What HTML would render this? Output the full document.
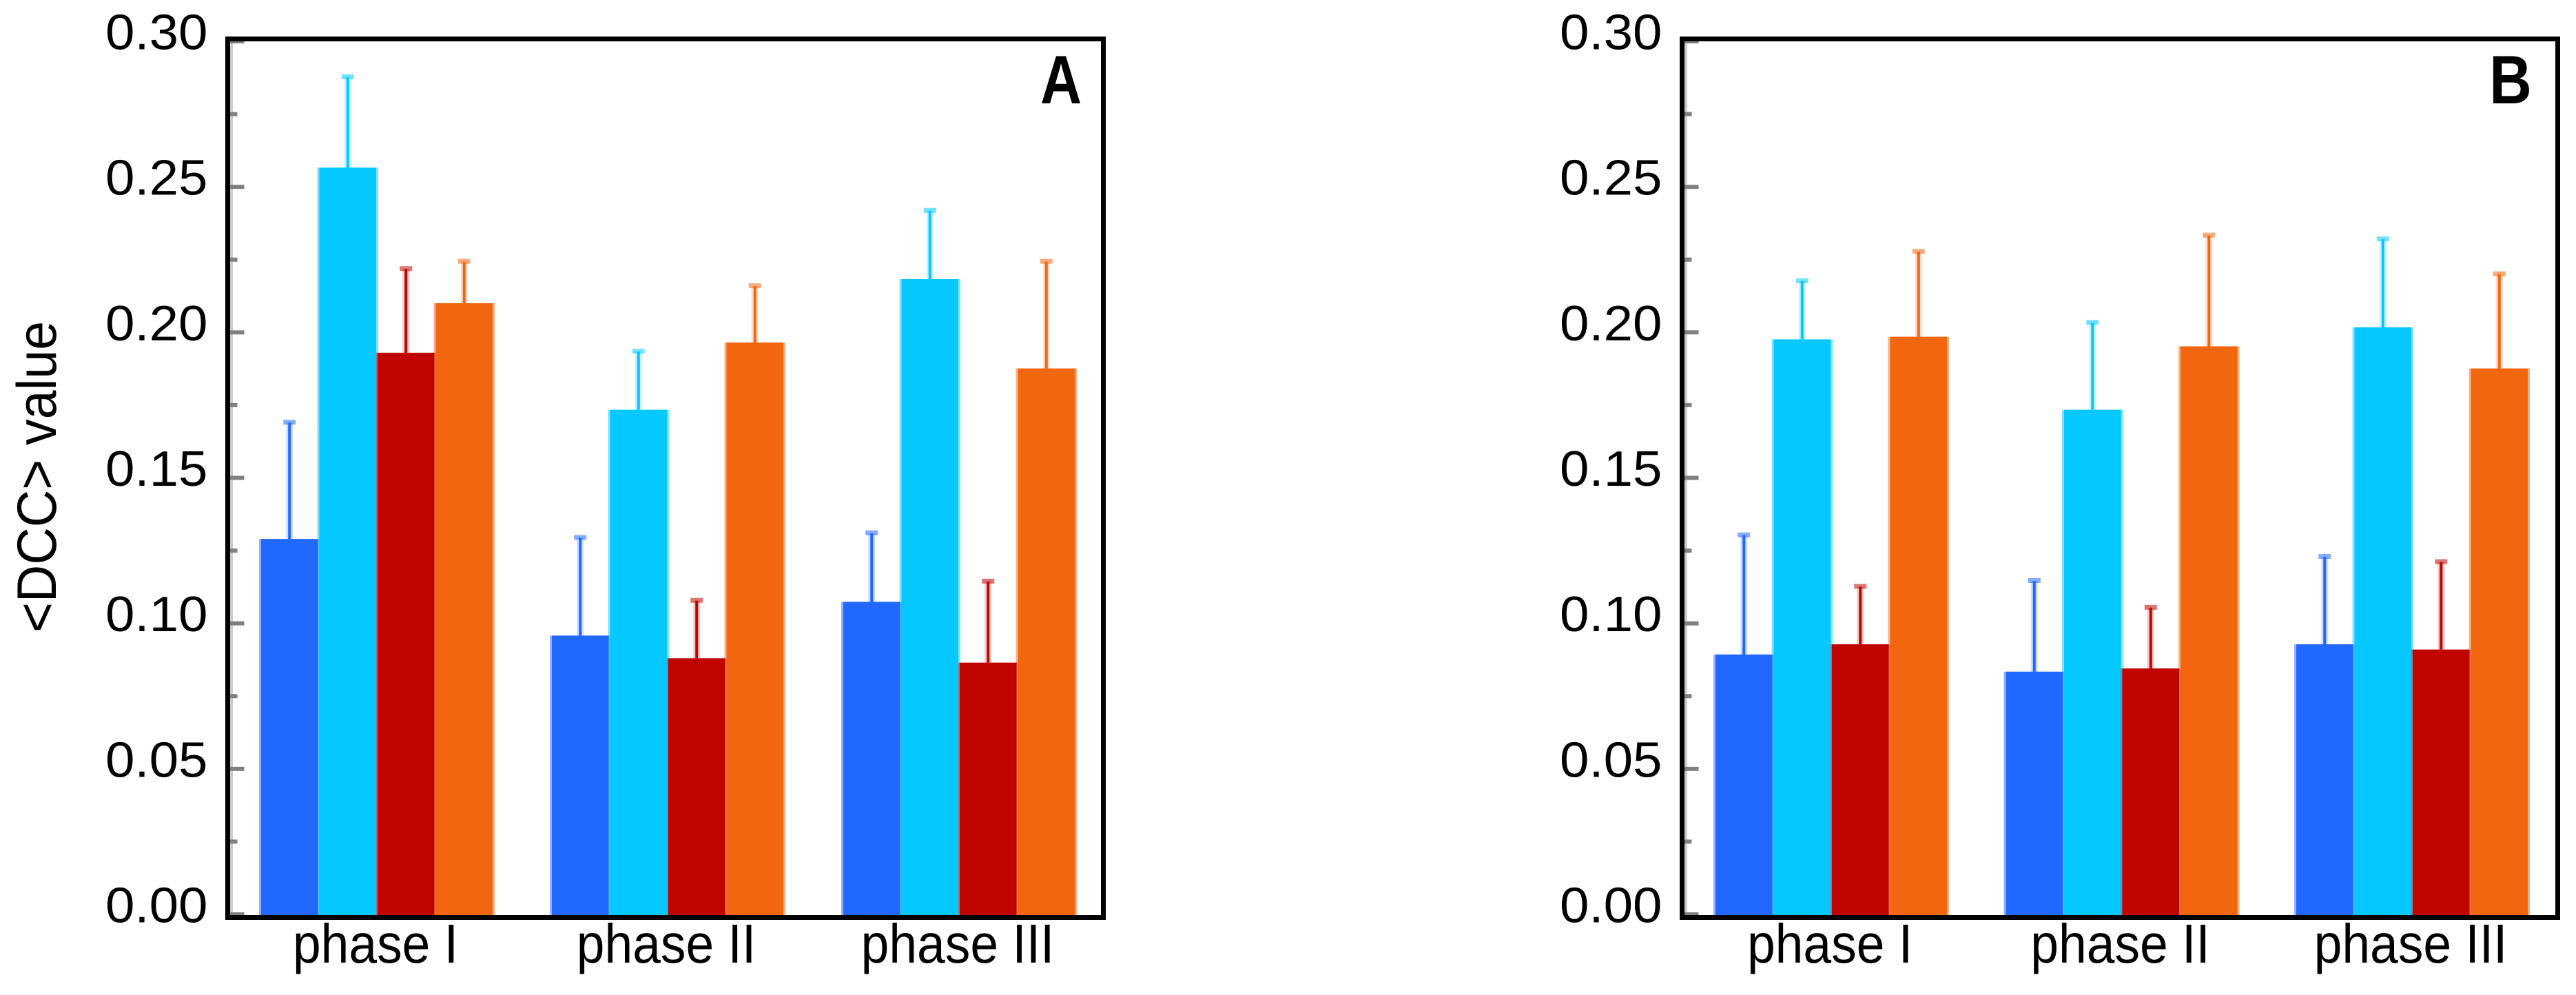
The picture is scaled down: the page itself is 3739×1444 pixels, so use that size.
<!DOCTYPE html>
<html lang="en">
<head>
<meta charset="utf-8">
<title>DCC value by phase</title>
<style>
html,body{margin:0;padding:0;background:#fff;}
body{width:3739px;height:1444px;overflow:hidden;}
svg{display:block;}
text{font-family:"Liberation Sans",sans-serif;fill:#000;}
</style>
</head>
<body>
<svg id="figure" xmlns="http://www.w3.org/2000/svg" width="3739" height="1444" viewBox="0 0 3739 1444">
<rect x="0" y="0" width="3739" height="1444" fill="#ffffff"/>
<text transform="translate(81,692) rotate(-90) scale(0.93,1)" text-anchor="middle" font-size="81">&lt;DCC&gt; value</text>
</svg>
<script>
const categories = ['phase I', 'phase II', 'phase III'];
const seriesNames = ['blue', 'cyan', 'red', 'orange'];
const yTickLabels = ['0.00', '0.05', '0.10', '0.15', '0.20', '0.25', '0.30'];
const yTickValues = [0, 0.05, 0.10, 0.15, 0.20, 0.25, 0.30];
const yMinorValues = [0.025, 0.075, 0.125, 0.175, 0.225, 0.275];

const panelAMeans = {
  blue: [0.129, 0.0958, 0.1074],
  cyan: [0.2566, 0.1734, 0.2183],
  red: [0.193, 0.088, 0.0865],
  orange: [0.21, 0.1965, 0.1876]
};
const panelAUppers = {
  blue: [0.169, 0.1294, 0.131],
  cyan: [0.2877, 0.1934, 0.2418],
  red: [0.2218, 0.1078, 0.1144],
  orange: [0.2243, 0.2159, 0.2243]
};
const panelBMeans = {
  blue: [0.0893, 0.0834, 0.0928],
  cyan: [0.1976, 0.1734, 0.2017],
  red: [0.0928, 0.0845, 0.091],
  orange: [0.1985, 0.1952, 0.1876]
};
const panelBUppers = {
  blue: [0.1303, 0.1146, 0.1229],
  cyan: [0.2176, 0.2033, 0.232],
  red: [0.1126, 0.1054, 0.1211],
  orange: [0.2277, 0.2333, 0.22]
};

const colors = { blue: '#2068ff', cyan: '#04c8ff', red: '#c00500', orange: '#f26610' };
const NS = 'http://www.w3.org/2000/svg';
const svg = document.getElementById('figure');

function make(parent, tag, attrs) {
  const el = document.createElementNS(NS, tag);
  for (const k in attrs) el.setAttribute(k, attrs[k]);
  parent.appendChild(el);
  return el;
}

function drawPanel(cfg) {
  const g = make(svg, 'g', {});
  
  

  const yTop = 60, yZero = 1327, yMax = 0.30;
  const yScale = v => yZero - (v / yMax) * (yZero - yTop);
  const groupX = i => cfg.groupStarts[i];

  categories.forEach((cat, ci) => {
    seriesNames.forEach((s, si) => {
      const x = groupX(ci) + si * cfg.barW;
      const top = yScale(cfg.means[s][ci]);
      const up = yScale(cfg.uppers[s][ci]);
      const cx = x + cfg.barW / 2;

      const stemHalo = make(g, 'rect', { x: cx - 5, y: up, width: 10, height: top - up, fill: colors[s], opacity: 0.22 });
      
      

      const stem = make(g, 'rect', { x: cx - 2, y: up, width: 4, height: top - up, fill: colors[s] });
      
      

      const cap = make(g, 'rect', { x: cx - 9, y: up - 4, width: 18, height: 7, fill: colors[s], opacity: 0.55 });
      
      

      const edge = make(g, 'rect', { x: x - 2, y: top, width: cfg.barW + 4, height: yZero + 2 - top, fill: colors[s], opacity: 0.5 });
      
      
    });
    seriesNames.forEach((s, si) => {
      const x = groupX(ci) + si * cfg.barW;
      const top = yScale(cfg.means[s][ci]);
      const bar = make(g, 'rect', { x: x + 1, y: top, width: cfg.barW - 2, height: yZero + 2 - top, fill: colors[s] });
      
      
    });

    const labelX = groupX(ci) + 2 * cfg.barW - 2;
    const label = make(g, 'text', { transform: 'translate(' + labelX + ',1397) scale(0.915,1)', 'text-anchor': 'middle', 'font-size': 80 });
    
    
    label.textContent = cat;
  });

  const strip = make(g, 'rect', { x: cfg.left + 3, y: yTop, width: 4.5, height: yZero - yTop, fill: '#cccccc' });
  
  

  yTickValues.forEach((v, i) => {
    const t = make(g, 'rect', { x: cfg.left + 3, y: yScale(v) - 3, width: 21, height: 6, fill: '#808080' });
    
    

    const lab = make(g, 'text', { transform: 'translate(' + (cfg.left - 29) + ',' + (yScale(v) + 11.5) + ') scale(1.06,1)', 'text-anchor': 'end', 'font-size': 72 });
    
    
    lab.textContent = yTickLabels[i];
  });
  yMinorValues.forEach(v => {
    const t = make(g, 'rect', { x: cfg.left + 3, y: yScale(v) - 3, width: 11, height: 6, fill: '#808080' });
    
    
  });

  const frame = make(g, 'rect', { x: cfg.left, y: 56.5, width: cfg.right - cfg.left, height: 1275, fill: 'none', stroke: '#000', 'stroke-width': 7 });
  
  

  const letter = make(g, 'text', { transform: 'translate(' + cfg.letterX + ',150) scale(' + cfg.letterScale + ',1)', 'text-anchor': 'middle', 'font-size': 99, 'font-weight': 'bold' });
  
  
  letter.textContent = cfg.letter;
}

drawPanel({
  letter: 'A', left: 330.5, right: 1601.5, letterX: 1540, letterScale: 0.84,
  groupStarts: [378, 800, 1223], barW: 84.5,
  means: panelAMeans, uppers: panelAUppers
});
drawPanel({
  letter: 'B', left: 2441.5, right: 3712.5, letterX: 3644, letterScale: 0.86,
  groupStarts: [2489, 2910.5, 3332], barW: 84.5,
  means: panelBMeans, uppers: panelBUppers
});
</script>
</body>
</html>
